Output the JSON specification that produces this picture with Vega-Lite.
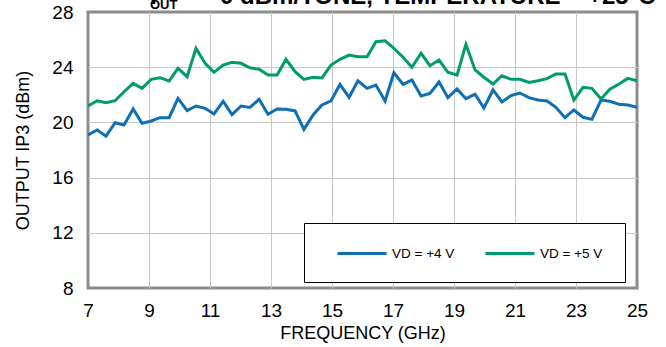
{
  "$schema": "https://vega.github.io/schema/vega-lite/v6.json",
  "width": 549,
  "height": 276,
  "autosize": {"type": "none"},
  "padding": {"left": 88, "top": 12, "right": 29, "bottom": 59},
  "background": "white",
  "title": {
    "text": "P\u00a0\u00a0\u00a0\u00a0\u00a0= 0 dBm/TONE, TEMPERATURE = +25°C",
    "subtitle": "\u00a0\u00a0\u00a0\u00a0\u00a0\u00a0OUT",
    "anchor": "start",
    "frame": "group",
    "dx": 62,
    "dy": 11,
    "offset": 2,
    "font": "Liberation Sans",
    "fontSize": 24,
    "fontWeight": "bold",
    "color": "black",
    "subtitleFont": "Liberation Sans",
    "subtitleFontSize": 13,
    "subtitleFontWeight": "bold",
    "subtitleColor": "black",
    "subtitlePadding": -10
  },
  "data": {
    "values": [
      {"f": 7, "VD = +4 V": 19.09, "VD = +5 V": 21.19},
      {"f": 7.3, "VD = +4 V": 19.45, "VD = +5 V": 21.57},
      {"f": 7.59, "VD = +4 V": 19.0, "VD = +5 V": 21.43},
      {"f": 7.89, "VD = +4 V": 19.98, "VD = +5 V": 21.57},
      {"f": 8.18, "VD = +4 V": 19.81, "VD = +5 V": 22.22},
      {"f": 8.48, "VD = +4 V": 20.97, "VD = +5 V": 22.83},
      {"f": 8.77, "VD = +4 V": 19.93, "VD = +5 V": 22.47},
      {"f": 9.07, "VD = +4 V": 20.1, "VD = +5 V": 23.12},
      {"f": 9.36, "VD = +4 V": 20.34, "VD = +5 V": 23.24},
      {"f": 9.66, "VD = +4 V": 20.34, "VD = +5 V": 23.0},
      {"f": 9.95, "VD = +4 V": 21.74, "VD = +5 V": 23.92},
      {"f": 10.25, "VD = +4 V": 20.85, "VD = +5 V": 23.31},
      {"f": 10.54, "VD = +4 V": 21.19, "VD = +5 V": 25.37},
      {"f": 10.84, "VD = +4 V": 21.02, "VD = +5 V": 24.28},
      {"f": 11.13, "VD = +4 V": 20.61, "VD = +5 V": 23.63},
      {"f": 11.43, "VD = +4 V": 21.53, "VD = +5 V": 24.16},
      {"f": 11.72, "VD = +4 V": 20.56, "VD = +5 V": 24.35},
      {"f": 12.02, "VD = +4 V": 21.19, "VD = +5 V": 24.28},
      {"f": 12.31, "VD = +4 V": 21.09, "VD = +5 V": 23.96},
      {"f": 12.61, "VD = +4 V": 21.67, "VD = +5 V": 23.85},
      {"f": 12.9, "VD = +4 V": 20.59, "VD = +5 V": 23.43},
      {"f": 13.2, "VD = +4 V": 20.97, "VD = +5 V": 23.43},
      {"f": 13.49, "VD = +4 V": 20.95, "VD = +5 V": 24.57},
      {"f": 13.79, "VD = +4 V": 20.83, "VD = +5 V": 23.67},
      {"f": 14.08, "VD = +4 V": 19.5, "VD = +5 V": 23.12},
      {"f": 14.38, "VD = +4 V": 20.54, "VD = +5 V": 23.27},
      {"f": 14.67, "VD = +4 V": 21.26, "VD = +5 V": 23.22},
      {"f": 14.97, "VD = +4 V": 21.57, "VD = +5 V": 24.16},
      {"f": 15.26, "VD = +4 V": 22.76, "VD = +5 V": 24.57},
      {"f": 15.56, "VD = +4 V": 21.82, "VD = +5 V": 24.88},
      {"f": 15.85, "VD = +4 V": 23.02, "VD = +5 V": 24.76},
      {"f": 16.15, "VD = +4 V": 22.47, "VD = +5 V": 24.76},
      {"f": 16.44, "VD = +4 V": 22.71, "VD = +5 V": 25.85},
      {"f": 16.74, "VD = +4 V": 21.55, "VD = +5 V": 25.92},
      {"f": 17.03, "VD = +4 V": 23.6, "VD = +5 V": 25.37},
      {"f": 17.33, "VD = +4 V": 22.76, "VD = +5 V": 24.72},
      {"f": 17.62, "VD = +4 V": 23.07, "VD = +5 V": 24.0},
      {"f": 17.92, "VD = +4 V": 21.91, "VD = +5 V": 25.01},
      {"f": 18.21, "VD = +4 V": 22.1, "VD = +5 V": 24.11},
      {"f": 18.51, "VD = +4 V": 22.93, "VD = +5 V": 24.52},
      {"f": 18.8, "VD = +4 V": 21.79, "VD = +5 V": 23.63},
      {"f": 19.1, "VD = +4 V": 22.42, "VD = +5 V": 23.43},
      {"f": 19.39, "VD = +4 V": 21.72, "VD = +5 V": 25.66},
      {"f": 19.69, "VD = +4 V": 22.04, "VD = +5 V": 23.8},
      {"f": 19.98, "VD = +4 V": 21.04, "VD = +5 V": 23.27},
      {"f": 20.28, "VD = +4 V": 22.35, "VD = +5 V": 22.78},
      {"f": 20.57, "VD = +4 V": 21.48, "VD = +5 V": 23.38},
      {"f": 20.87, "VD = +4 V": 21.94, "VD = +5 V": 23.12},
      {"f": 21.16, "VD = +4 V": 22.13, "VD = +5 V": 23.12},
      {"f": 21.46, "VD = +4 V": 21.79, "VD = +5 V": 22.9},
      {"f": 21.75, "VD = +4 V": 21.62, "VD = +5 V": 23.02},
      {"f": 22.05, "VD = +4 V": 21.55, "VD = +5 V": 23.17},
      {"f": 22.34, "VD = +4 V": 21.09, "VD = +5 V": 23.51},
      {"f": 22.64, "VD = +4 V": 20.34, "VD = +5 V": 23.51},
      {"f": 22.93, "VD = +4 V": 20.9, "VD = +5 V": 21.62},
      {"f": 23.23, "VD = +4 V": 20.37, "VD = +5 V": 22.54},
      {"f": 23.52, "VD = +4 V": 20.22, "VD = +5 V": 22.47},
      {"f": 23.82, "VD = +4 V": 21.62, "VD = +5 V": 21.7},
      {"f": 24.11, "VD = +4 V": 21.53, "VD = +5 V": 22.4},
      {"f": 24.41, "VD = +4 V": 21.31, "VD = +5 V": 22.78},
      {"f": 24.7, "VD = +4 V": 21.26, "VD = +5 V": 23.19},
      {"f": 25, "VD = +4 V": 21.09, "VD = +5 V": 23.02}
    ]
  },
  "transform": [
    {"fold": ["VD = +4 V", "VD = +5 V"], "as": ["series", "ip3"]}
  ],
  "mark": {"type": "line", "strokeWidth": 3, "clip": true},
  "encoding": {
    "x": {
      "field": "f",
      "type": "quantitative",
      "scale": {"domain": [7, 25], "nice": false, "zero": false},
      "axis": {
        "title": "FREQUENCY (GHz)",
        "values": [7, 9, 11, 13, 15, 17, 19, 21, 23, 25],
        "labelFlush": false,
        "labelPadding": 13,
        "titlePadding": 4,
        "gridColor": {"condition": {"test": "datum.value == 7 || datum.value == 25", "value": "transparent"}, "value": "#c8c8c8"}
      }
    },
    "y": {
      "field": "ip3",
      "type": "quantitative",
      "scale": {"domain": [8, 28], "nice": false, "zero": false},
      "axis": {
        "title": "OUTPUT IP3 (dBm)",
        "values": [8, 12, 16, 20, 24, 28],
        "labelFlush": false,
        "labelPadding": 15,
        "titlePadding": 19,
        "gridColor": {"condition": {"test": "datum.value == 8 || datum.value == 28", "value": "transparent"}, "value": "#c8c8c8"}
      }
    },
    "color": {
      "field": "series",
      "type": "nominal",
      "scale": {"domain": ["VD = +4 V", "VD = +5 V"], "range": ["#0f6eb4", "#009c6e"]},
      "legend": {
        "title": null,
        "orient": "none",
        "legendX": 216,
        "legendY": 211,
        "direction": "horizontal",
        "symbolType": "M-1,0H6",
        "symbolSize": 196,
        "symbolStrokeWidth": 3,
        "symbolFillColor": "transparent",
        "symbolOffset": 10,
        "labelOffset": 39,
        "columnPadding": 19,
        "labelFont": "Liberation Sans",
        "labelFontSize": 13.5,
        "labelColor": "black",
        "padding": 22,
        "fillColor": "white",
        "strokeColor": "black"
      }
    }
  },
  "config": {
    "view": {"stroke": "#8c8c8c", "strokeWidth": 3},
    "axis": {
      "domain": false,
      "ticks": false,
      "tickSize": 0,
      "grid": true,
      "gridWidth": 1,
      "labelFont": "Liberation Sans",
      "labelFontSize": 19,
      "labelColor": "black",
      "titleFont": "Liberation Sans",
      "titleFontSize": 18,
      "titleFontWeight": "normal",
      "titleColor": "black"
    }
  }
}
